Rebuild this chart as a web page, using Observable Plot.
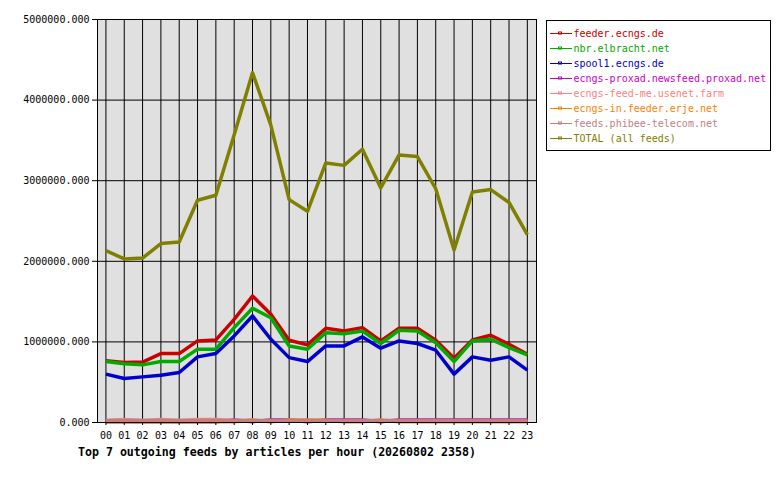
<!DOCTYPE html>
<html><head><meta charset="utf-8">
<script src="https://cdn.jsdelivr.net/npm/d3@7"></script>
<script src="https://cdn.jsdelivr.net/npm/@observablehq/plot@0.6"></script>
<style>
body{margin:0;background:#fff;}
#wrap{position:relative;width:780px;height:480px;}
#overlay{position:absolute;left:0;top:0;pointer-events:none;}
</style></head>
<body><div id="wrap"></div>
<script>
const hours = [0,1,2,3,4,5,6,7,8,9,10,11,12,13,14,15,16,17,18,19,20,21,22,23];
const hourLabels = ["00","01","02","03","04","05","06","07","08","09","10","11","12","13","14","15","16","17","18","19","20","21","22","23"];
const feeds = ["feeder.ecngs.de","nbr.elbracht.net","spool1.ecngs.de","ecngs-proxad.newsfeed.proxad.net","ecngs-feed-me.usenet.farm","ecngs-in.feeder.erje.net","feeds.phibee-telecom.net","TOTAL (all feeds)"];
const colors = ["#cc0000","#00aa00","#0000cc","#cc00cc","#ff8080","#ff8000","#c08080","#808000"];
const feeder = [765000,744000,750000,855000,855000,1012000,1025000,1280000,1570000,1343000,1020000,963000,1170000,1136000,1177000,1012000,1170000,1170000,1020000,798000,1025000,1083000,971000,847000];
const nbr = [756000,730000,715000,756000,756000,910000,910000,1177000,1417000,1300000,950000,910000,1115000,1100000,1136000,980000,1145000,1136000,990000,756000,1012000,1033000,930000,839000];
const spool1 = [600000,545000,566000,587000,620000,814000,855000,1074000,1322000,1033000,805000,756000,950000,950000,1062000,922000,1012000,980000,897000,600000,814000,773000,814000,649000];
const proxad = [10000,10000,10000,10000,10000,10000,10000,32000,10000,32000,32000,10000,32000,32000,32000,10000,32000,32000,32000,32000,32000,32000,32000,32000];
const feedme = [25000,38000,25000,38000,25000,38000,38000,25000,25000,20000,20000,20000,20000,20000,20000,20000,20000,20000,20000,20000,20000,20000,20000,20000];
const erje = [10000,10000,10000,10000,10000,10000,10000,10000,30000,10000,30000,30000,28000,10000,10000,30000,10000,10000,10000,10000,10000,10000,10000,10000];
const phibee = [25000,25000,25000,25000,25000,25000,25000,25000,25000,25000,25000,25000,25000,25000,25000,25000,25000,25000,25000,25000,25000,25000,25000,25000];
const total = [2133000,2030000,2040000,2220000,2240000,2757000,2820000,3570000,4340000,3690000,2765000,2620000,3220000,3190000,3390000,2910000,3320000,3300000,2900000,2140000,2860000,2890000,2730000,2330000];
const yTicks = [0,1000000,2000000,3000000,4000000,5000000];
const title = "Top 7 outgoing feeds by articles per hour (20260802 2358)";

const series = [feeder,nbr,spool1,proxad,feedme,erje,phibee,total];
const rows = [];
series.forEach((vals, i) => vals.forEach((v, j) => rows.push({feed: feeds[i], hour: hours[j], value: v})));

const font = "'DejaVu Sans Mono', 'Liberation Mono', monospace";
const chart = Plot.plot({
  width: 780, height: 480,
  marginLeft: 97, marginRight: 244, marginTop: 19, marginBottom: 58,
  style: {fontFamily: font, fontSize: "10px", color: "#000", background: "transparent"},
  x: {type: "linear", domain: [-0.46, 23.5], axis: null},
  y: {domain: [0, 5000000], axis: null},
  color: {domain: feeds, range: colors},
  marks: [
    Plot.frame({fill: "#e0e0e0"}),
    Plot.gridX(hours, {stroke: "#000", strokeOpacity: 1, strokeWidth: 1}),
    Plot.gridY(yTicks, {stroke: "#000", strokeOpacity: 1, strokeWidth: 1}),
    Plot.line(rows, {x: "hour", y: "value", z: "feed", stroke: "feed", strokeWidth: 3.5, strokeLinejoin: "round", strokeLinecap: "butt"}),
    Plot.frame({stroke: "#000", strokeWidth: 1}),
    Plot.axisY(yTicks, {label: null, tickFormat: d => d3.format(".3f")(d), tickSize: 5, tickPadding: 3, fontSize: 10}),
    Plot.axisX(hours, {label: null, tickFormat: (d, i) => hourLabels[i], tickSize: 3, tickPadding: 6, fontSize: 10})
  ]
});
document.getElementById("wrap").appendChild(chart);

// overlay: legend and title
const svg = d3.select("#wrap").append("svg").attr("id","overlay").attr("width",780).attr("height",480)
  .style("font-family", font);
svg.append("rect").attr("x",546.5).attr("y",20.5).attr("width",224).attr("height",130)
  .attr("fill","#fff").attr("stroke","#000");
feeds.forEach((f, i) => {
  const y = 33.5 + i * 15;
  svg.append("line").attr("x1",550).attr("x2",572).attr("y1",y).attr("y2",y).attr("stroke",colors[i]).attr("stroke-width",1);
  svg.append("rect").attr("x",558.5).attr("y",y-1.5).attr("width",3).attr("height",2).attr("fill","none").attr("stroke",colors[i]).attr("stroke-width",1);
  svg.append("text").attr("x",573.5).attr("y",y).attr("dy","0.35em").attr("fill",colors[i]).attr("font-size",10).text(f);
});
svg.append("text").attr("x",78).attr("y",452).attr("dy","0.35em").attr("font-size",11.6).attr("font-weight","bold").attr("fill","#000").text(title);
</script></body></html>
